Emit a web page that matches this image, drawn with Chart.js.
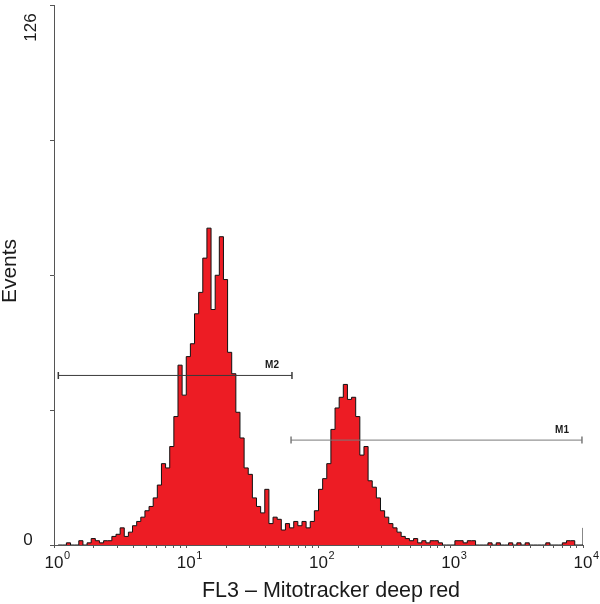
<!DOCTYPE html>
<html>
<head>
<meta charset="utf-8">
<script src="https://cdn.jsdelivr.net/npm/chart.js@4.4.0/dist/chart.umd.min.js"></script>
<style>
  body { margin: 0; background: #fff; }
</style>
</head>
<body>
<canvas id="myChart" width="600" height="604"></canvas>
<script>
// FL3 histogram, 128 bins over 4 log decades (8 channels of 1024 per bin)
var binCounts = [
  0, 0, 0.5, 0, 0, 1, 0, 0.5, 1.5, 1,
  0.5, 1, 1, 2, 2.5, 4, 2, 3, 4.5, 5.5,
  6.5, 8, 9, 11, 14, 19, 18, 23, 30, 42,
  35, 44, 47, 54, 59, 67, 74, 55, 63, 72,
  62, 45, 40, 31, 25, 18, 16.5, 11, 9, 7.5,
  13, 5, 6.5, 6, 3.5, 5, 4, 5.5, 4.5, 5.5,
  4, 5.5, 8, 13, 15.5, 19, 27, 32, 34.5, 37.5,
  34, 34.5, 30, 21, 23, 15, 13.5, 11, 8, 6.5,
  5, 4, 3, 2, 1.5, 1, 1.5, 0.5, 1, 0.5,
  1, 1, 0.5, 0, 0, 0, 1, 1, 0.5, 1,
  1, 0, 0, 0, 0.5, 0, 0.5, 0, 0, 0.5,
  0, 0.5, 0, 0.5, 0, 0, 0, 0, 0.5, 0,
  0, 0, 0.5, 1, 1, 0, 0, 4
];
var binsPerDecade = 32;

// marker gates
var markerNames = ['M1', 'M2'];
var markerStart = [62, 1.078];
var markerEnd = [9820, 63];
var markerLevel = [24.5, 39.6];
var markerColors = ['#7a7a7a', '#3a3a3a'];

// axes
var xDecades = [1, 10, 100, 1000, 10000];
var xExponents = ['0', '1', '2', '3', '4'];
var yTicks = [0, 31.5, 63, 94.5, 126];
var yTickLabels = ['0', '126'];
var xTitle = 'FL3 \u2013 Mitotracker deep red';
var yTitle = 'Events';

var fontFam = '"Liberation Sans", Arial, Helvetica, sans-serif';

// histogram points at the right edge of each bin
var histPoints = [];
for (var i = 0; i < binCounts.length; i++) {
  histPoints.push({ x: Math.pow(10, (i + 1) / binsPerDecade), y: binCounts[i] });
}

var datasets = [];
for (var m = 0; m < markerNames.length; m++) {
  datasets.push({
    label: markerNames[m],
    data: [{ x: markerStart[m], y: markerLevel[m] }, { x: markerEnd[m], y: markerLevel[m] }],
    borderColor: markerColors[m],
    borderWidth: 1,
    pointStyle: 'line',
    rotation: 90,
    pointRadius: 3.5,
    pointBorderColor: markerColors[m],
    pointBorderWidth: 1.5,
    fill: false,
    order: 0
  });
}
datasets.push({
  label: 'FL3',
  data: histPoints,
  stepped: 'before',
  borderColor: '#111',
  borderWidth: 1,
  backgroundColor: '#ed1c24',
  fill: 'origin',
  pointRadius: 0,
  order: 1
});

var xMinor = [];
for (var d = 0; d < 4; d++) {
  for (var k = 1; k <= 9; k++) xMinor.push(k * xDecades[d]);
}
xMinor.push(10000);

var textPlugin = {
  id: 'textPlugin',
  afterDraw: function (chart) {
    var ctx = chart.ctx;
    var xs = chart.scales.x, ys = chart.scales.y;
    ctx.save();
    ctx.fillStyle = '#1a1a1a';

    // x tick labels 10^n
    for (var i = 0; i < xDecades.length; i++) {
      var px = xs.getPixelForValue(xDecades[i]);
      ctx.font = '17px ' + fontFam;
      var w = ctx.measureText('10').width;
      ctx.textAlign = 'left';
      ctx.textBaseline = 'alphabetic';
      ctx.fillText('10', px - w / 2, 568);
      ctx.font = '11px ' + fontFam;
      ctx.fillText(xExponents[i], px + w / 2 + 0.5, 559);
    }

    // y labels
    ctx.font = '17px ' + fontFam;
    ctx.textAlign = 'center';
    ctx.textBaseline = 'middle';
    ctx.fillText(yTickLabels[0], 28, ys.getPixelForValue(0) - 5);
    ctx.save();
    ctx.translate(31, ys.getPixelForValue(126) + 22);
    ctx.rotate(-Math.PI / 2);
    ctx.fillText(yTickLabels[1], 0, 0);
    ctx.restore();

    // axis titles
    ctx.font = '21px ' + fontFam;
    ctx.save();
    ctx.translate(10, 271);
    ctx.rotate(-Math.PI / 2);
    ctx.fillText(yTitle, 0, 0);
    ctx.restore();
    ctx.font = '21.5px ' + fontFam;
    ctx.textBaseline = 'alphabetic';
    ctx.fillText(xTitle, 331, 597);

    // marker labels
    ctx.font = 'bold 10px ' + fontFam;
    ctx.textAlign = 'right';
    for (var m = 0; m < markerNames.length; m++) {
      var ex = xs.getPixelForValue(markerEnd[m]);
      var ey = ys.getPixelForValue(markerLevel[m]);
      ctx.fillText(markerNames[m], ex - 13, ey - 7);
    }
    ctx.restore();
  }
};

var ctx = document.getElementById('myChart');
var chart = new Chart(ctx, {
  type: 'line',
  data: { datasets: datasets },
  options: {
    responsive: false,
    animation: false,
    devicePixelRatio: 1,
    layout: { padding: { top: 2, right: 17, left: 0, bottom: 0 } },
    plugins: { legend: { display: false }, tooltip: { enabled: false } },
    elements: { line: { tension: 0 } },
    scales: {
      x: {
        type: 'logarithmic',
        min: 1,
        max: 10000,
        afterBuildTicks: function (scale) {
          scale.ticks = xMinor.map(function (v) { return { value: v, major: xDecades.indexOf(v) >= 0 }; });
        },
        afterFit: function (scale) { scale.height = 59; },
        ticks: { display: false },
        grid: { drawOnChartArea: false, tickLength: 3, tickColor: '#555', tickWidth: 1 },
        border: { color: '#555', width: 1 }
      },
      y: {
        type: 'linear',
        min: 0,
        max: 126,
        afterBuildTicks: function (scale) {
          scale.ticks = yTicks.map(function (v) { return { value: v }; });
        },
        afterFit: function (scale) { scale.width = 54; },
        ticks: { display: false },
        grid: { drawOnChartArea: false, tickLength: 4, tickColor: '#555', tickWidth: 1 },
        border: { color: '#555', width: 1 }
      }
    }
  },
  plugins: [textPlugin]
});
</script>
</body>
</html>
